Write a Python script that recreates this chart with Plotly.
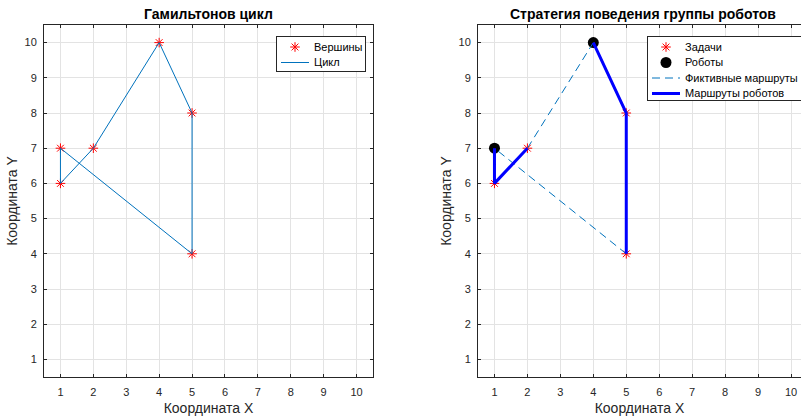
import plotly.graph_objects as go

# Task (vertex) coordinates
task_x = [1, 1, 2, 4, 5, 5]
task_y = [6, 7, 7, 10, 8, 4]

# Hamiltonian cycle visiting order
cycle_x = [1, 1, 2, 4, 5, 5, 1]
cycle_y = [7, 6, 7, 10, 8, 4, 7]

# Robot start positions
robot_x = [1, 4]
robot_y = [7, 10]

# Fictive (inter-robot) links of the cycle
fict_x = [2, 4, None, 5, 1]
fict_y = [7, 10, None, 4, 7]

# Actual robot routes
route_x = [1, 1, 2, None, 4, 5, 5]
route_y = [7, 6, 7, None, 10, 8, 4]

ticks = list(range(1, 11))

FONT = "Liberation Sans, Arial, Helvetica, sans-serif"
AX = "#262626"
GRID = "#e3e3e3"
W, H = 801, 418
mt, mb = 25, 41
PH = H - mt - mb

STAR = dict(symbol="asterisk-open", size=8, color="red", line=dict(color="red", width=1))
DOT = dict(symbol="circle", size=11, color="black")
CYCLE_LINE = dict(color="#0072BD", width=1)
FICT_LINE = dict(color="#0072BD", width=1, dash="8px,5px")
ROUTE_LINE = dict(color="#0000FF", width=3)

fig = go.Figure()

# Left panel
fig.add_trace(go.Scatter(x=task_x, y=task_y, mode="markers", marker=STAR,
                         xaxis="x", yaxis="y", showlegend=False))
fig.add_trace(go.Scatter(x=cycle_x, y=cycle_y, mode="lines", line=CYCLE_LINE,
                         xaxis="x", yaxis="y", showlegend=False))

# Right panel
fig.add_trace(go.Scatter(x=task_x, y=task_y, mode="markers", marker=STAR,
                         xaxis="x2", yaxis="y2", showlegend=False))
fig.add_trace(go.Scatter(x=robot_x, y=robot_y, mode="markers", marker=DOT,
                         xaxis="x2", yaxis="y2", showlegend=False))
fig.add_trace(go.Scatter(x=fict_x, y=fict_y, mode="lines", line=FICT_LINE,
                         xaxis="x2", yaxis="y2", showlegend=False))
fig.add_trace(go.Scatter(x=route_x, y=route_y, mode="lines", line=ROUTE_LINE,
                         xaxis="x2", yaxis="y2", showlegend=False))


def xaxis(dom, rng):
    return dict(domain=dom, range=rng, tickvals=ticks, ticks="inside", ticklen=3,
                tickcolor=AX, showline=True, linecolor=AX, linewidth=1, mirror="ticks",
                showgrid=True, gridcolor=GRID, zeroline=False, ticklabelstandoff=5,
                automargin=False,
                tickfont=dict(family=FONT, size=11, color=AX),
                title=dict(text="Координата X", font=dict(family=FONT, size=14, color=AX),
                           standoff=5))


def yaxis(anchor, mirror):
    return dict(domain=[0, 1], range=[0.5, 10.5], tickvals=ticks, ticks="inside",
                ticklen=3, tickcolor=AX, showline=True, linecolor=AX, linewidth=1,
                mirror=mirror, showgrid=True, gridcolor=GRID, zeroline=False,
                anchor=anchor, ticklabelstandoff=4, automargin=False,
                tickfont=dict(family=FONT, size=11, color=AX),
                title=dict(text="Координата Y", font=dict(family=FONT, size=14, color=AX),
                           standoff=3))


x1l, x1r = 44, 373
x2l = 478
r2_end = 1 + (W - 494) / 33.0

layout = dict(
    width=W, height=H,
    margin=dict(l=0, r=0, t=mt, b=mb, autoexpand=False),
    paper_bgcolor="white", plot_bgcolor="white",
    font=dict(family=FONT, color=AX),
    showlegend=False,
    xaxis=xaxis([x1l / W, x1r / W], [0.5, 10.5]),
    yaxis=yaxis("x", "ticks"),
    xaxis2=dict(xaxis([x2l / W, 1.0], [0.5, r2_end]), anchor="y2"),
    yaxis2=yaxis("x2", False),
)

annotations = [
    dict(text="<b>Гамильтонов цикл</b>", x=(x1l + x1r) / 2 / W, y=1, xref="paper",
         yref="paper", xanchor="center", yanchor="bottom", yshift=1, showarrow=False,
         font=dict(family=FONT, size=14, color="black")),
    dict(text="<b>Стратегия поведения группы роботов</b>", x=(x2l + 807) / 2 / W, y=1,
         xref="paper", yref="paper", xanchor="center", yanchor="bottom", yshift=1,
         showarrow=False, font=dict(family=FONT, size=14, color="black")),
]

# Legend boxes: each is a small overlaid subplot measured in pixels
legends = [
    # (axis id, left, right, top, bottom, closed right edge, entries)
    ("3", 277, 365, 37, 71, True,
     [("Вершины", "marker", STAR), ("Цикл", "line", CYCLE_LINE)]),
    ("4", 648, W, 37, 100, False,
     [("Задачи", "marker", STAR), ("Роботы", "marker", DOT),
      ("Фиктивные маршруты", "line", FICT_LINE),
      ("Маршруты роботов", "line", ROUTE_LINE)]),
]
ROW0, ROW_STEP = 10, 15.5
SAMPLE_L, SAMPLE_R, TEXT_X = 4, 32, 34.5

for ax_id, left, right, top, bottom, closed, entries in legends:
    w, h = right - left, bottom - top
    layout["xaxis" + ax_id] = dict(
        domain=[left / W, right / W], range=[0, w], anchor="y" + ax_id,
        showgrid=False, zeroline=False, showticklabels=False, ticks="",
        showline=True, linecolor=AX, linewidth=1, mirror=True, fixedrange=True)
    layout["yaxis" + ax_id] = dict(
        domain=[(H - mb - bottom) / PH, (H - mb - top) / PH], range=[h, 0],
        anchor="x" + ax_id, showgrid=False, zeroline=False, showticklabels=False,
        ticks="", showline=True, linecolor=AX, linewidth=1, mirror=closed,
        fixedrange=True)
    for i, (label, kind, style) in enumerate(entries):
        ry = ROW0 + i * ROW_STEP
        if kind == "marker":
            fig.add_trace(go.Scatter(x=[(SAMPLE_L + SAMPLE_R) / 2], y=[ry], mode="markers",
                                     marker=style, xaxis="x" + ax_id, yaxis="y" + ax_id,
                                     hoverinfo="skip"))
        else:
            fig.add_trace(go.Scatter(x=[SAMPLE_L, SAMPLE_R], y=[ry, ry], mode="lines",
                                     line=style, xaxis="x" + ax_id, yaxis="y" + ax_id,
                                     hoverinfo="skip"))
        annotations.append(dict(text=label, x=TEXT_X, y=ry, xref="x" + ax_id,
                                yref="y" + ax_id, xanchor="left", yanchor="middle",
                                showarrow=False,
                                font=dict(family=FONT, size=11, color="black")))

layout["annotations"] = annotations
fig.update_layout(**layout)

fig.write_html("out.html")
